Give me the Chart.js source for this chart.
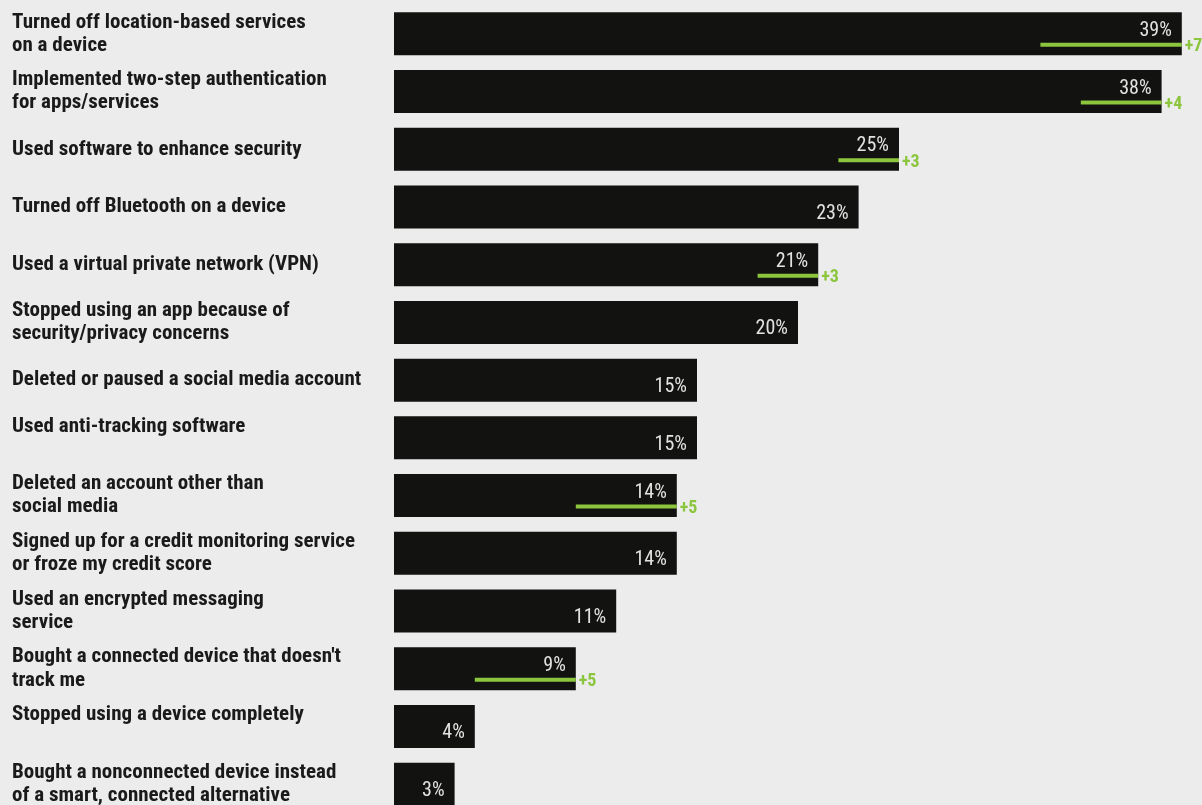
<!DOCTYPE html>
<html>
<head>
<meta charset="utf-8">
<script src="https://cdn.jsdelivr.net/npm/chart.js@4.4.1/dist/chart.umd.min.js"></script>
<style>
  html, body { margin: 0; padding: 0; background: #ececec; overflow: hidden; }
  #wrap { position: relative; width: 1202px; height: 818px; }
</style>
</head>
<body>
<div id="wrap"><canvas id="c"></canvas></div>
<script>
const categories = [
  ["Turned off location-based services", "on a device"],
  ["Implemented two-step authentication", "for apps/services"],
  "Used software to enhance security",
  "Turned off Bluetooth on a device",
  "Used a virtual private network (VPN)",
  ["Stopped using an app because of", "security/privacy concerns"],
  "Deleted or paused a social media account",
  ["Used anti-tracking software", ""],
  ["Deleted an account other than", "social media"],
  ["Signed up for a credit monitoring service", "or froze my credit score"],
  ["Used an encrypted messaging", "service"],
  ["Bought a connected device that doesn't", "track me"],
  ["Stopped using a device completely", ""],
  ["Bought a nonconnected device instead", "of a smart, connected alternative"]
];
const values = [39, 38, 25, 23, 21, 20, 15, 15, 14, 14, 11, 9, 4, 3];
const changes = [7, 4, 3, null, 3, null, null, null, 5, null, null, 5, null, null];

const FONT = '"Roboto Condensed", "Open Sans Condensed", sans-serif';
const GREEN = '#8cc63e';

const overlay = {
  id: 'overlay',
  afterDatasetsDraw(chart) {
    const ctx = chart.ctx;
    const xs = chart.scales.x;
    const meta = chart.getDatasetMeta(0);
    ctx.save();
    meta.data.forEach((bar, i) => {
      const v = values[i];
      const c = changes[i];
      const xEnd = bar.x;
      const yc = bar.y;
      const hasC = c !== null && c !== undefined;
      ctx.font = '20px ' + FONT;
      ctx.fillStyle = '#e2e2e2';
      ctx.textAlign = 'right';
      ctx.textBaseline = 'middle';
      ctx.fillText(v + '%', xEnd - 10, yc + (hasC ? -3 : 7));
      if (hasC) {
        const x1 = xs.getPixelForValue(v - c);
        const ly = yc + 11;
        ctx.strokeStyle = GREEN;
        ctx.lineWidth = 4;
        ctx.beginPath();
        ctx.moveTo(x1, ly);
        ctx.lineTo(xEnd, ly);
        ctx.stroke();
        ctx.font = 'bold 18px ' + FONT;
        ctx.fillStyle = GREEN;
        ctx.textAlign = 'left';
        ctx.fillText('+' + c, xEnd + 3, ly + 2);
      }
    });
    ctx.restore();
  }
};

new Chart(document.getElementById('c'), {
  type: 'bar',
  data: {
    labels: categories,
    datasets: [{
      data: values,
      backgroundColor: '#121210',
      borderWidth: 0,
      categoryPercentage: 1,
      barPercentage: 0.745
    }]
  },
  options: {
    indexAxis: 'y',
    responsive: true,
    maintainAspectRatio: false,
    animation: false,
    layout: { padding: { left: 12, top: 5, bottom: 5, right: 0 } },
    plugins: { legend: { display: false }, tooltip: { enabled: false } },
    scales: {
      x: { display: false, min: 0, max: 40 },
      y: {
        position: 'left',
        grid: { display: false, drawTicks: false },
        border: { display: false },
        afterFit(scale) {
          scale.width = 382;
          scale.paddingTop = 0;
          scale.paddingBottom = 0;
        },
        ticks: {
          crossAlign: 'far',
          padding: 0,
          color: '#1a1a1a',
          font: { family: FONT, size: 21, weight: 'bold', lineHeight: 1.1 }
        }
      }
    }
  },
  plugins: [overlay]
});
</script>
</body>
</html>
